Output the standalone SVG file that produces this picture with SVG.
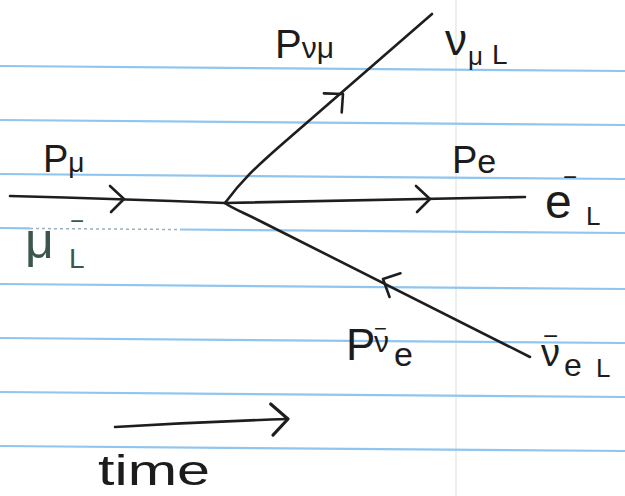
<svg xmlns="http://www.w3.org/2000/svg" width="625" height="496" viewBox="0 0 625 496">
<style>
.rule{stroke:#8fc5ee;stroke-width:2.2;fill:none}
.ln{stroke:#1e1e1e;stroke-width:2.6;fill:none;stroke-linecap:round;stroke-linejoin:round}
.t{font-family:"Liberation Sans",Arial,sans-serif;fill:#1c1c1c}
.g{fill:#3b574c}
</style>
<defs>
<path id="chev" d="M-14,-13 L0,0 L-13,13" class="ln"/>
</defs>
<rect width="625" height="496" fill="#ffffff"/>
<g id="paper">
<line x1="456" y1="0" x2="456" y2="496" stroke="#eeeeee" stroke-width="2"/>
<line class="rule" x1="0" y1="66" x2="625" y2="71"/>
<line class="rule" x1="0" y1="120" x2="625" y2="125"/>
<line class="rule" x1="0" y1="174" x2="625" y2="179"/>
<line class="rule" x1="0" y1="228" x2="30" y2="228.3"/>
<line class="rule" x1="180" y1="229.5" x2="625" y2="233"/>
<line x1="30" y1="228.5" x2="180" y2="229.5" stroke="#9ab0bf" stroke-width="1.5" stroke-dasharray="3 3"/>
<line class="rule" x1="0" y1="284" x2="625" y2="289"/>
<line class="rule" x1="0" y1="338" x2="625" y2="343"/>
<line class="rule" x1="0" y1="392" x2="625" y2="397"/>
<line class="rule" x1="0" y1="446" x2="625" y2="451"/>
</g>
<g id="connectors">
<path class="ln" d="M10,196 Q120,199 225,203"/>
<path class="ln" d="M225,203 Q300,201 525,197"/>
<path class="ln" d="M225,203 C242,180 255,168 280,146 L432,14"/>
<path class="ln" d="M225,203 C233,209 245,213 262,222 L530,357"/>
<use href="#chev" transform="translate(124,199)"/>
<use href="#chev" transform="translate(430,199)"/>
<use href="#chev" transform="translate(343,94) rotate(-41)"/>
<use href="#chev" transform="translate(383,279) rotate(-153)"/>
<path class="ln" d="M115,427 Q200,422 288,419"/>
<use href="#chev" transform="translate(288,419) rotate(-2) scale(1.2)"/>
</g>
<g id="muon-in">
<text class="t" x="43" y="172" font-size="38">P<tspan font-size="28">μ</tspan></text>
<text class="t g" x="25" y="258" font-size="50">μ</text>
<text class="t g" x="69" y="268" font-size="28">L</text>
<text class="t g" x="70" y="229" font-size="24">−</text>
</g>
<g id="numu">
<text class="t" x="275" y="58" font-size="40">P<tspan font-size="30">νμ</tspan></text>
<text class="t" x="445" y="55" font-size="44">ν</text>
<text class="t" x="468" y="65" font-size="26">μ</text>
<text class="t" x="492" y="64" font-size="28">L</text>
</g>
<g id="electron">
<text class="t" x="452" y="173" font-size="38">P<tspan font-size="34">e</tspan></text>
<text class="t" x="545" y="218" font-size="48">e</text>
<text class="t" x="563" y="185" font-size="24">−</text>
<text class="t" x="586" y="225" font-size="26">L</text>
</g>
<g id="antinue">
<text class="t" x="346" y="360" font-size="44">P</text>
<text class="t" x="374" y="352" font-size="30">ν</text>
<text class="t" x="374" y="336" font-size="22">−</text>
<text class="t" x="394" y="366" font-size="34">e</text>
<text class="t" x="541" y="366" font-size="38">ν</text>
<text class="t" x="543" y="345" font-size="26">−</text>
<text class="t" x="564" y="376" font-size="32">e</text>
<text class="t" x="596" y="377" font-size="26">L</text>
</g>
<g id="time-axis">
<text class="t" x="98" y="485" font-size="42" textLength="112" lengthAdjust="spacingAndGlyphs">time</text>
</g>
</svg>
